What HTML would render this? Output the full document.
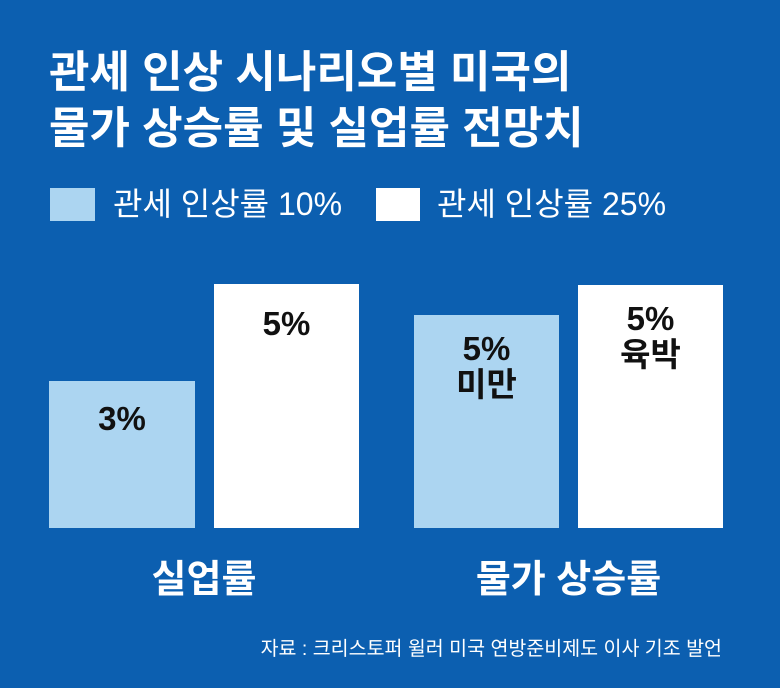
<!DOCTYPE html>
<html><head><meta charset="utf-8"><style>
body{margin:0;}
#c{position:relative;width:780px;height:688px;background:#0c5fb0;overflow:hidden;font-family:"Liberation Sans","Noto Sans CJK KR",sans-serif;}
.t{position:absolute;white-space:nowrap;}
.b{position:absolute;}
.v{position:absolute;width:100%;text-align:center;color:#111;font-weight:bold;font-size:33px;line-height:36px;}
</style></head><body><div id="c">
<div class="t" style="left:49px;top:45px;font-size:44px;font-weight:bold;color:#fff;line-height:56px;letter-spacing:0px;">관세 인상 시나리오별 미국의<br>물가 상승률 및 실업률 전망치</div>
<div class="b" style="left:50px;top:188px;width:45px;height:33px;background:#acd5f1"></div>
<div class="t" style="left:113px;top:184px;font-size:32px;color:#fff;line-height:40px;">관세 인상률 10%</div>
<div class="b" style="left:376px;top:188px;width:44px;height:33px;background:#fff"></div>
<div class="t" style="left:437px;top:184px;font-size:32px;color:#fff;line-height:40px;">관세 인상률 25%</div>
<div class="b" style="left:49px;top:381px;width:146px;height:147px;background:#acd5f1"><div class="v" style="top:20px">3%</div></div>
<div class="b" style="left:214px;top:284px;width:145px;height:244px;background:#fff"><div class="v" style="top:22px">5%</div></div>
<div class="b" style="left:414px;top:315px;width:145px;height:213px;background:#acd5f1"><div class="v" style="top:16px">5%<br>미만</div></div>
<div class="b" style="left:578px;top:285px;width:145px;height:243px;background:#fff"><div class="v" style="top:16px">5%<br>육박</div></div>
<div class="t" style="left:49px;width:310px;text-align:center;top:557px;font-size:38px;font-weight:bold;color:#fff;line-height:46px;">실업률</div>
<div class="t" style="left:414px;width:309px;text-align:center;top:557px;font-size:38px;font-weight:bold;color:#fff;line-height:46px;">물가 상승률</div>
<div class="t" style="right:58px;top:636px;font-size:19.5px;color:#fff;line-height:26px;">자료 : 크리스토퍼 윌러 미국 연방준비제도 이사 기조 발언</div>
</div></body></html>
